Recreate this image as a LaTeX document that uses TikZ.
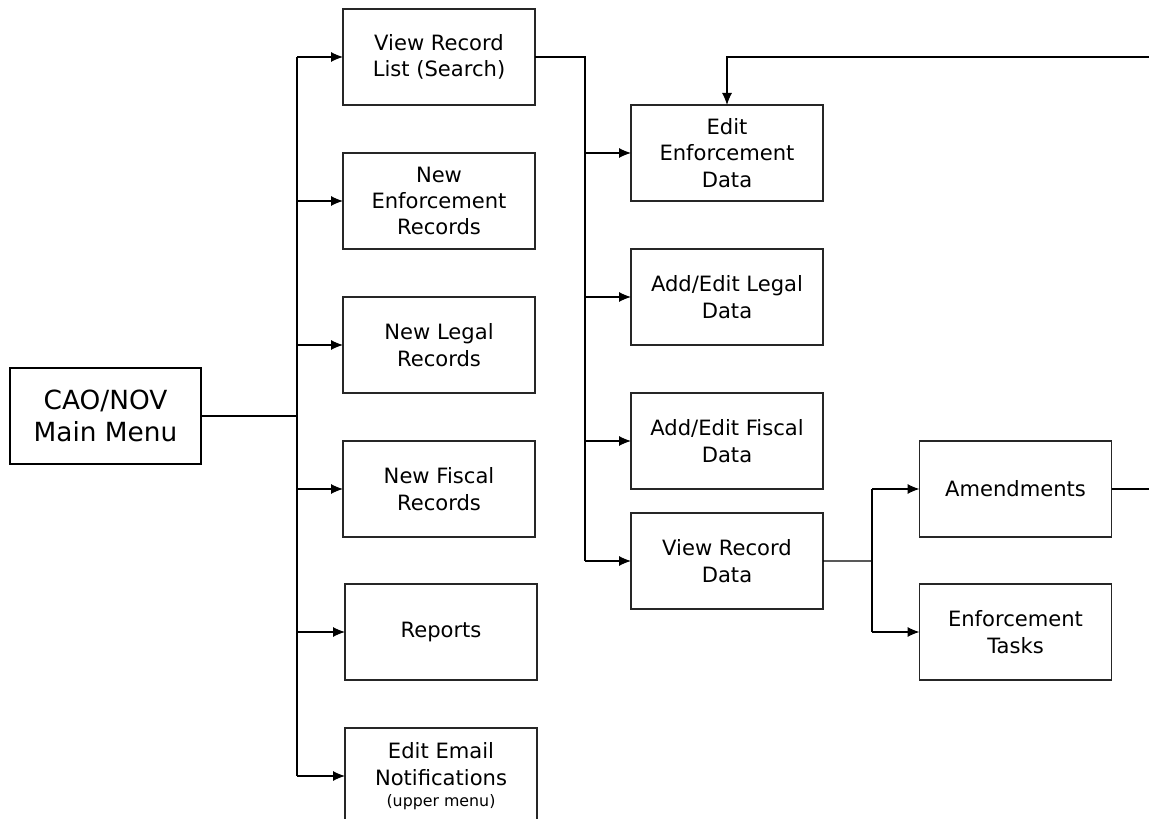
\documentclass[tikz,border=0pt]{standalone}
\usepackage{fontspec}
\setmainfont{DejaVu Sans}
\usetikzlibrary{positioning}
\usetikzlibrary{arrows.meta}

\begin{document}
\begin{tikzpicture}[node distance=0.96cm,>={Latex[length=2.4mm,width=2mm]},every node/.append style={align=center},menu/.style={draw, line width=1.7pt, outer sep=0pt, minimum width=3.82cm, minimum height=1.92cm, font=\fontsize{15}{18}\selectfont},item/.style={draw=black!85, line width=0.6pt, outer sep=0pt, minimum width=3.84cm, minimum height=1.92cm, font=\fontsize{12}{15}\selectfont},
  bus/.style={line width=1.1pt}, arr/.style={->, line width=0.6pt}]
    \useasboundingbox (0,0) rectangle (22.98,-16.38);
    \node [menu] (main) at (2.11,-8.32) {CAO/NOV\\Main Menu};
    % first column
    \node [item] (vlist) at (8.78,-1.14) {View Record\\List (Search)};
    \node [item, below=of vlist] (newenf) {New\\Enforcement\\Records};
    \node [item, below=of newenf] (newlegal) {New Legal\\Records};
    \node [item, below=of newlegal] (newfiscal) {New Fiscal\\Records};
    \node [item, below=0.94cm of newfiscal, xshift=0.04cm] (reports) {Reports};
    \node [item, below=of reports] (email) {Edit Email\\Notifications\\[-3pt]{\fontsize{9}{10}\selectfont (upper menu)}};
    % second column
    \node [item] (editenf) at (14.54,-3.06) {Edit\\Enforcement\\Data};
    \node [item, below=of editenf] (addlegal) {Add/Edit Legal\\Data};
    \node [item, below=of addlegal] (addfiscal) {Add/Edit Fiscal\\Data};
    \node [item, below=0.48cm of addfiscal] (vdata) {View Record\\Data};
    % third column
    \node [item] (amend) at (20.31,-9.78) {Amendments};
    \node [item, below=0.94cm of amend] (tasks) {Enforcement\\Tasks};
    \coordinate (tk) at (5.94,-8.32);
    \coordinate (sp) at (11.70,-1.14);
    \coordinate (fk) at (17.44,-11.22);
    \coordinate (back) at (22.98,-1.14);
    \coordinate (out) at (22.98,-9.78);
    \draw [bus] (main) -- (tk);
    \draw [bus] (tk |- vlist) -- (tk |- email);
    \foreach \n in {vlist,newenf,newlegal,newfiscal,reports,email}
      \draw [arr] (tk |- \n) -- (\n);
    \draw [bus] (vlist.east) -- (sp) -- (sp |- vdata);
    \foreach \n in {editenf,addlegal,addfiscal,vdata}
      \draw [arr] (sp |- \n) -- (\n);
    \draw [line width=0.6pt] (vdata) -- (fk);
    \draw [line width=0.6pt] (fk |- amend) -- (fk |- tasks);
    \draw [arr] (fk |- amend) -- (amend);
    \draw [arr] (fk |- tasks) -- (tasks);
    \draw [line width=0.6pt] (amend) -- (out);
    \draw [arr] (back) -| (editenf);
\end{tikzpicture}
\end{document}
